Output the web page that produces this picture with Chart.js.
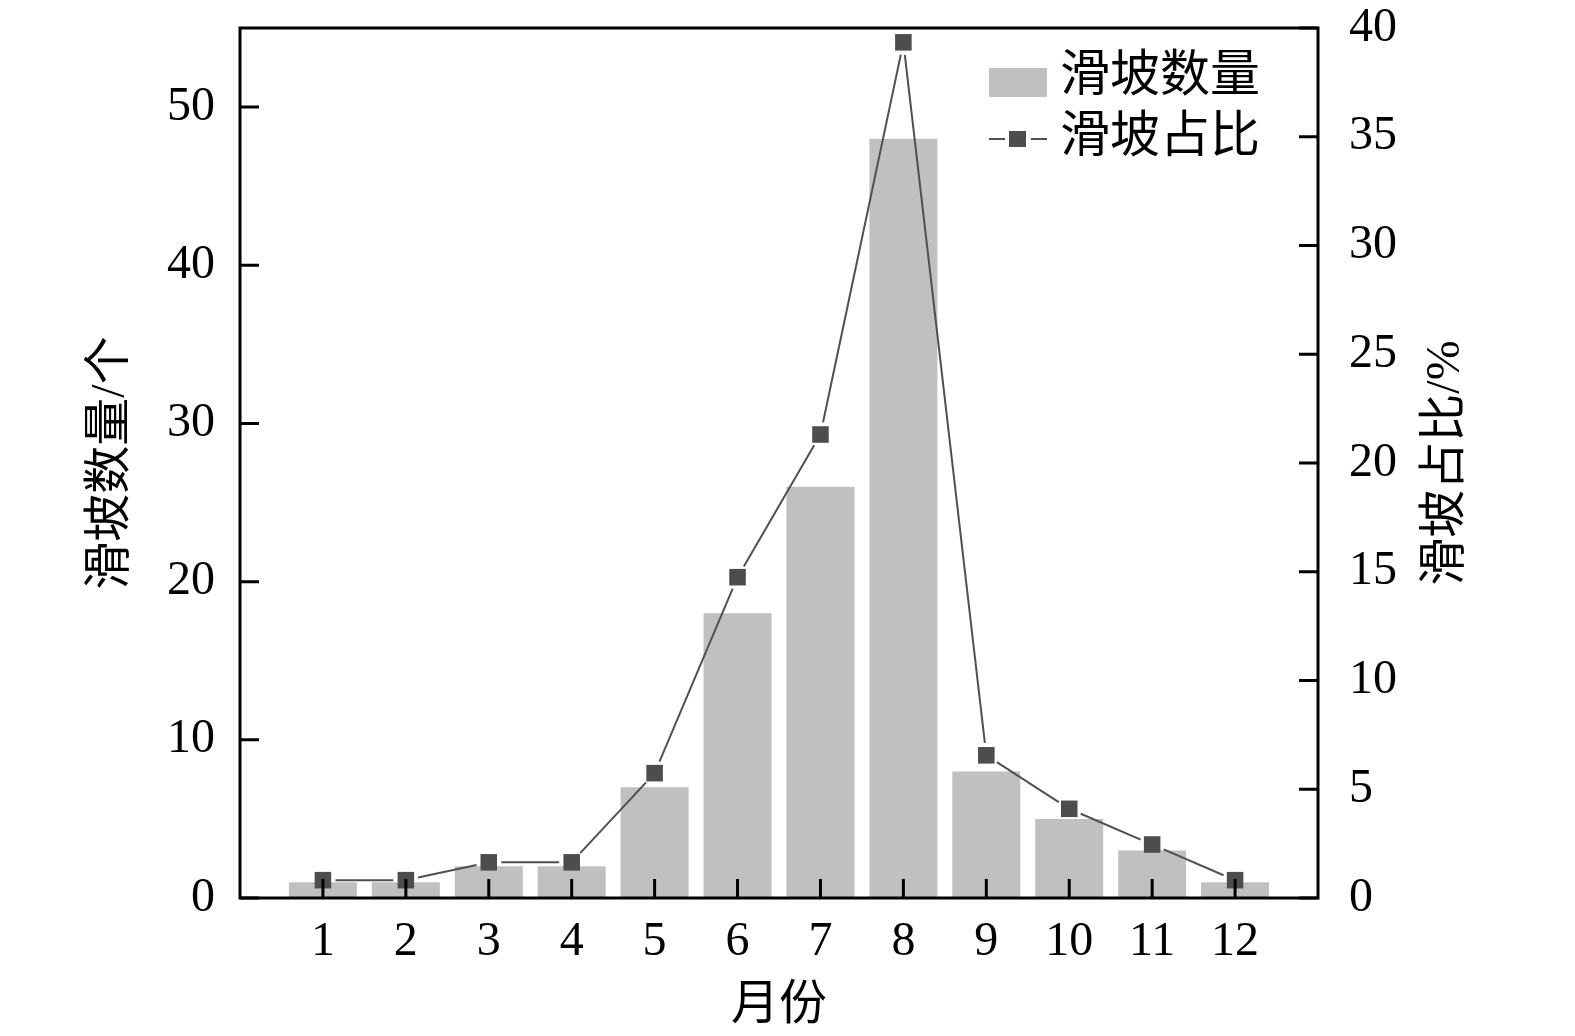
<!DOCTYPE html>
<html>
<head>
<meta charset="utf-8">
<script src="https://cdn.jsdelivr.net/npm/chart.js@4.4.1/dist/chart.umd.min.js"></script>
<style>
html,body{margin:0;padding:0;background:#ffffff;}
#wrap{width:1575px;height:1036px;position:relative;}
</style>
</head>
<body>
<div id="wrap"><canvas id="c" width="1575" height="1036"></canvas></div>
<script>
// ---- data ----
const months = [1, 2, 3, 4, 5, 6, 7, 8, 9, 10, 11, 12];
const landslideCount = [1, 1, 2, 2, 7, 18, 26, 48, 8, 5, 3, 1];
const landslidePercent = [0.82, 0.82, 1.64, 1.64, 5.74, 14.75, 21.31, 39.34, 6.56, 4.10, 2.46, 0.82];
const leftTicks = [0, 10, 20, 30, 40, 50];
const rightTicks = [0, 5, 10, 15, 20, 25, 30, 35, 40];
const seriesNames = ['滑坡数量', '滑坡占比'];
const xTitle = '月份';
const leftTitle = '滑坡数量/个';
const rightTitle = '滑坡占比/%';

// ---- styles ----
const FONT = "'Liberation Serif', 'Times New Roman', 'Noto Sans CJK SC', serif";
const BAR_COLOR = '#c0c0c0';
const LINE_COLOR = '#505050';
const MARK_COLOR = '#4d4d4d';

function zeroPad(s) { s.paddingTop = 0; s.paddingBottom = 0; s.paddingLeft = 0; s.paddingRight = 0; }

// draws the connecting line with small gaps at each marker (line dataset index 0)
const gapLinePlugin = {
  id: 'gapLinePlugin',
  beforeDatasetDraw(chart, args) {
    if (args.index !== 0) return;
    const pts = args.meta.data;
    const ctx = chart.ctx;
    const G = 12.5;
    ctx.save();
    ctx.strokeStyle = LINE_COLOR;
    ctx.lineWidth = 2;
    ctx.beginPath();
    for (let i = 0; i < pts.length - 1; i++) {
      const p0 = pts[i], p1 = pts[i + 1];
      const dx = p1.x - p0.x, dy = p1.y - p0.y;
      const len = Math.hypot(dx, dy);
      if (len <= 2 * G) continue;
      const ux = dx / len, uy = dy / len;
      ctx.moveTo(p0.x + ux * G, p0.y + uy * G);
      ctx.lineTo(p1.x - ux * G, p1.y - uy * G);
    }
    ctx.stroke();
    ctx.restore();
  }
};

const framePlugin = {
  id: 'framePlugin',
  afterDatasetsDraw(chart) {
    const ctx = chart.ctx;
    const a = chart.chartArea;
    const sx = chart.scales.x, sy = chart.scales.y, sy1 = chart.scales.y1;
    ctx.save();
    ctx.strokeStyle = '#000';
    ctx.lineWidth = 3;
    ctx.lineCap = 'butt';
    // ticks (inward)
    const TL = 19;
    ctx.beginPath();
    months.forEach(m => {
      const px = sx.getPixelForValue(m);
      ctx.moveTo(px, a.bottom); ctx.lineTo(px, a.bottom - TL);
    });
    leftTicks.forEach(v => {
      const py = sy.getPixelForValue(v);
      ctx.moveTo(a.left, py); ctx.lineTo(a.left + TL, py);
    });
    rightTicks.forEach(v => {
      const py = sy1.getPixelForValue(v);
      ctx.moveTo(a.right, py); ctx.lineTo(a.right - TL, py);
    });
    ctx.stroke();
    // frame
    ctx.strokeRect(a.left, a.top, a.right - a.left, a.bottom - a.top);

    // right axis title (reads bottom-to-top)
    ctx.fillStyle = '#000';
    ctx.font = '48px ' + FONT;
    ctx.textAlign = 'center';
    ctx.textBaseline = 'middle';
    ctx.translate(a.right + 128, (a.top + a.bottom) / 2);
    ctx.rotate(-Math.PI / 2);
    ctx.fillText(rightTitle, 0, 0);
    ctx.restore();

    // legend
    ctx.save();
    ctx.font = '50px ' + FONT;
    ctx.textAlign = 'left';
    ctx.textBaseline = 'middle';
    const lx = 989, row1 = 82, row2 = 139;
    ctx.fillStyle = BAR_COLOR;
    ctx.fillRect(lx, row1 - 14, 58, 29);
    ctx.fillStyle = '#000';
    ctx.fillText(seriesNames[0], 1060, row1 - 4);
    ctx.strokeStyle = LINE_COLOR;
    ctx.lineWidth = 2;
    ctx.beginPath();
    ctx.moveTo(lx, row2); ctx.lineTo(lx + 16, row2);
    ctx.moveTo(lx + 42, row2); ctx.lineTo(lx + 58, row2);
    ctx.stroke();
    ctx.fillStyle = MARK_COLOR;
    ctx.fillRect(lx + 20, row2 - 8, 17, 16);
    ctx.fillStyle = '#000';
    ctx.fillText(seriesNames[1], 1060, row2);
    ctx.restore();
  }
};

new Chart(document.getElementById('c'), {
  data: {
    datasets: [
      {
        type: 'line',
        label: seriesNames[1],
        data: months.map((m, i) => ({x: m, y: landslidePercent[i]})),
        yAxisID: 'y1',
        showLine: false,
        borderColor: LINE_COLOR,
        borderWidth: 2,
        pointStyle: 'rect',
        pointRadius: 11.7,
        pointBorderWidth: 0,
        pointBackgroundColor: MARK_COLOR,
        pointBorderColor: MARK_COLOR,
        tension: 0,
        order: 0
      },
      {
        type: 'bar',
        label: seriesNames[0],
        data: months.map((m, i) => ({x: m, y: landslideCount[i]})),
        yAxisID: 'y',
        backgroundColor: BAR_COLOR,
        borderWidth: 0,
        barPercentage: 0.82,
        categoryPercentage: 1.0,
        order: 1
      }
    ]
  },
  options: {
    responsive: false,
    devicePixelRatio: 1,
    animation: false,
    layout: {padding: {top: 28, left: 0, right: 0, bottom: 0}},
    plugins: {legend: {display: false}, tooltip: {enabled: false}},
    scales: {
      x: {
        type: 'linear',
        offset: false,
        min: 0,
        max: 13,
        afterBuildTicks: s => { s.ticks = months.map(v => ({value: v})); },
        afterFit: s => { s.height = 138; zeroPad(s); },
        grid: {display: false, drawTicks: false},
        border: {display: false},
        ticks: {font: {family: FONT, size: 48}, color: '#000', padding: 16, maxRotation: 0, autoSkip: false},
        title: {display: true, text: xTitle, color: '#000', font: {family: FONT, size: 48}, padding: {top: 1, bottom: 1}}
      },
      y: {
        type: 'linear',
        position: 'left',
        min: 0,
        max: 55,
        afterBuildTicks: s => { s.ticks = leftTicks.map(v => ({value: v})); },
        afterFit: s => { s.width = 240; zeroPad(s); },
        grid: {display: false, drawTicks: false},
        border: {display: false},
        ticks: {font: {family: FONT, size: 48}, color: '#000', padding: 25},
        title: {display: true, text: leftTitle, color: '#000', font: {family: FONT, size: 48}, padding: {top: 83, bottom: 0}}
      },
      y1: {
        type: 'linear',
        position: 'right',
        min: 0,
        max: 40,
        afterBuildTicks: s => { s.ticks = rightTicks.map(v => ({value: v})); },
        afterFit: s => { s.width = 257; zeroPad(s); },
        grid: {display: false, drawTicks: false},
        border: {display: false},
        ticks: {font: {family: FONT, size: 48}, color: '#000', padding: 31},
        title: {display: false}
      }
    }
  },
  plugins: [gapLinePlugin, framePlugin]
});
</script>
</body>
</html>
